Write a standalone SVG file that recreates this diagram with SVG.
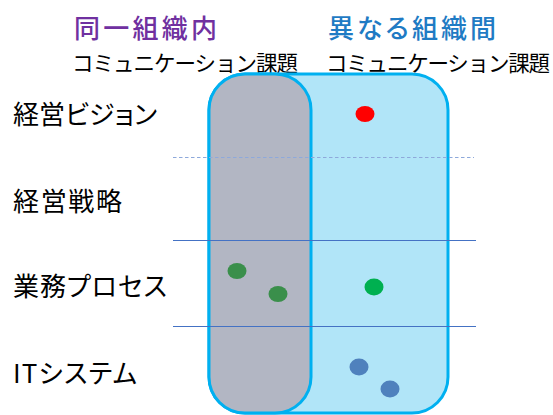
<svg xmlns="http://www.w3.org/2000/svg" width="553" height="415" viewBox="0 0 553 415">
<style>
text{font-family:"Noto Sans CJK JP","Noto Sans",sans-serif;font-feature-settings:"palt";}
.h{font-size:26px;font-weight:500;}
.sub{font-size:21.5px;fill:#000;font-feature-settings:normal;}
.row{font-size:26px;fill:#000;}
.grid{stroke:#4472C4;stroke-width:1;}
</style>
<rect width="553" height="415" fill="#fff"/>
<g id="header">
<text class="h" x="74" y="38" fill="#7030A0" textLength="143">同一組織内</text>
<text class="h" x="328" y="38" fill="#1F7BC4" textLength="168">異なる組織間</text>
<text class="sub" x="72" y="71" textLength="226">コミュニケーション課題</text>
<text class="sub" x="326" y="71" textLength="224">コミュニケーション課題</text>
</g>
<g id="outer">
<rect x="209" y="74" width="239" height="339" rx="36" ry="36" fill="#B1E5F8" stroke="#00B0F0" stroke-width="3"/>
</g>
<g id="inner">
<rect x="209" y="74" width="102" height="339" rx="36" ry="36" fill="#B2B6C3" stroke="#00B0F0" stroke-width="3"/>
</g>
<g id="connectors">
<line x1="173" y1="157.5" x2="474" y2="157.5" stroke="#8EA9DB" stroke-width="1" stroke-dasharray="3.5,2.5"/>
<line class="grid" x1="173" y1="240.5" x2="476" y2="240.5"/>
<line class="grid" x1="173" y1="326.5" x2="476" y2="326.5"/>
</g>
<g id="labels">
<text class="row" x="13" y="124" textLength="144">経営ビジョン</text>
<text class="row" x="13" y="211" textLength="109">経営戦略</text>
<text class="row" x="13" y="296" textLength="154">業務プロセス</text>
<text class="row" x="13" y="383" textLength="124">ITシステム</text>
</g>
<g id="dots">
<ellipse cx="365" cy="114" rx="9.5" ry="8" fill="#FF0000"/>
<ellipse cx="237" cy="271" rx="9.5" ry="8" fill="#3A8F4B"/>
<ellipse cx="278" cy="294" rx="9.5" ry="8" fill="#3A8F4B"/>
<ellipse cx="374" cy="287" rx="9.5" ry="8.5" fill="#00B050"/>
<ellipse cx="359" cy="367" rx="9.5" ry="8.5" fill="#4F81BD"/>
<ellipse cx="390" cy="389" rx="9.5" ry="8.5" fill="#4F81BD"/>
</g>
</svg>
